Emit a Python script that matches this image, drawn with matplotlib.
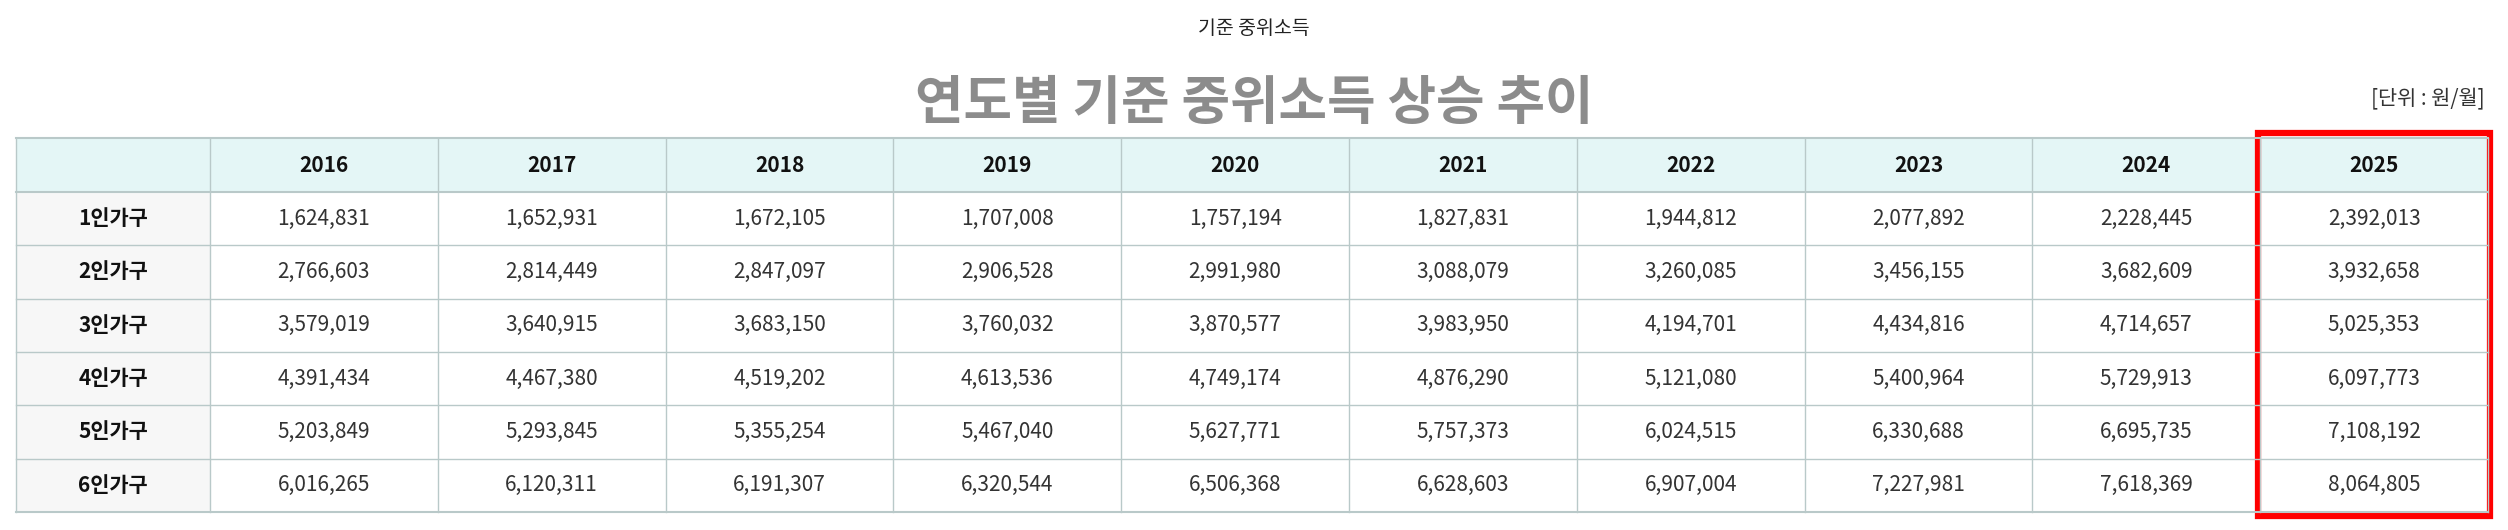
import matplotlib
matplotlib.use("Agg")
import matplotlib.pyplot as plt
from matplotlib.patches import Rectangle

years = ["2016","2017","2018","2019","2020","2021","2022","2023","2024","2025"]
households = ["1인가구","2인가구","3인가구","4인가구","5인가구","6인가구"]
v1 = [1624831,1652931,1672105,1707008,1757194,1827831,1944812,2077892,2228445,2392013]
v2 = [2766603,2814449,2847097,2906528,2991980,3088079,3260085,3456155,3682609,3932658]
v3 = [3579019,3640915,3683150,3760032,3870577,3983950,4194701,4434816,4714657,5025353]
v4 = [4391434,4467380,4519202,4613536,4749174,4876290,5121080,5400964,5729913,6097773]
v5 = [5203849,5293845,5355254,5467040,5627771,5757373,6024515,6330688,6695735,7108192]
v6 = [6016265,6120311,6191307,6320544,6506368,6628603,6907004,7227981,7618369,8064805]
values = [v1,v2,v3,v4,v5,v6]

FONT = ["Noto Sans CJK KR", "Noto Sans CJK JP", "Noto Sans CJK SC", "Noto Sans CJK TC", "DejaVu Sans"]
plt.rcParams["font.family"] = FONT
fig = plt.figure(figsize=(25.08,5.30), dpi=100)
ax = fig.add_axes([0,0,1,1])
ax.set_xlim(0,2508); ax.set_ylim(530,0); ax.axis("off")

left, c0 = 16, 210
right = 2488
cw = (right-c0)/len(years)
top, hh = 138, 54
rh = (512-192)/len(households)
line = "#b9c9c9"

ax.text(1254, 29, "기준 중위소득", ha="center", va="center", fontsize=14, color="#222")
ax.text(1254, 104, "연도별 기준 중위소득 상승 추이", ha="center", va="center", fontsize=38, color="#8c8c8c", fontweight="bold")
ax.text(2485, 99, "[단위 : 원/월]", ha="right", va="center", fontsize=15, color="#333")

ax.add_patch(Rectangle((left, top), right-left, hh, facecolor="#e4f6f6", edgecolor="none"))
ax.add_patch(Rectangle((left, top+hh), c0-left, rh*len(households), facecolor="#f7f7f7", edgecolor="none"))
for j, y in enumerate(years):
    ax.text(c0+cw*(j+0.5), top+hh/2, y, ha="center", va="center", fontsize=15, fontweight="bold", color="#111")
for i, h in enumerate(households):
    yc = top+hh+rh*(i+0.5)
    ax.text((left+c0)/2, yc, h, ha="center", va="center", fontsize=15, fontweight="bold", color="#111")
    for j in range(len(years)):
        ax.text(c0+cw*(j+0.5), yc, f"{values[i][j]:,}", ha="center", va="center", fontsize=15, color="#333")

ys = [top, top+hh] + [top+hh+rh*(k+1) for k in range(len(households))]
for y in ys:
    ax.plot([left, right], [y, y], color=line, lw=1.5 if y in (top, top+hh, ys[-1]) else 1)
xs = [left, c0] + [c0+cw*(k+1) for k in range(len(years))]
for x in xs:
    ax.plot([x, x], [top, ys[-1]], color=line, lw=1)

ax.add_patch(Rectangle((c0+cw*9-2, top-5), cw+4, ys[-1]-top+9, facecolor="none", edgecolor="#ff0000", lw=4.5))

fig.savefig("out.png", dpi=100)
